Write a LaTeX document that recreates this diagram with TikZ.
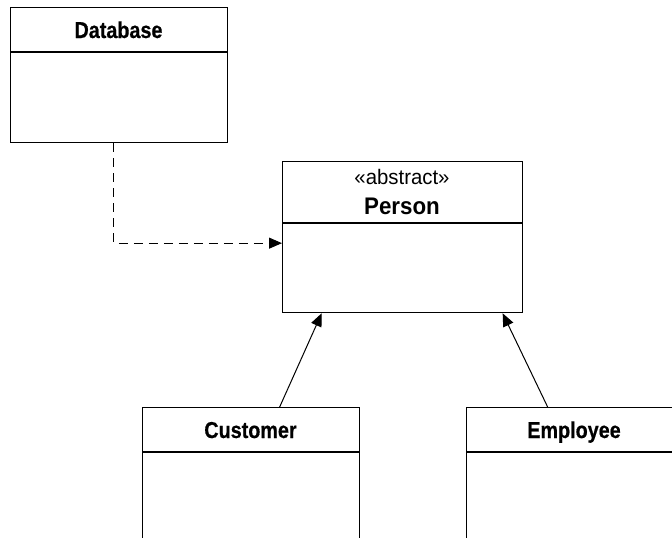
\documentclass[tikz,border=0pt]{standalone}
\usepackage{fontspec}
\setmainfont{Liberation Sans}
\newfontfamily\condbold[FakeStretch=0.86,FakeBold=0.6]{Liberation Sans Bold}
\newfontfamily\condreg[FakeStretch=0.97]{Liberation Sans}
\newfontfamily\headbold[FakeStretch=0.93]{Liberation Sans Bold}
\usetikzlibrary{arrows.meta,calc}
\tikzset{
  classbox/.style={draw, line width=1.3pt, inner sep=0pt, anchor=north west},
  classname/.style={font=\condbold\fontsize{23}{25}\selectfont, inner sep=0pt, anchor=base},
  divider/.style={line width=1.3pt},
  depends/.style={line width=1pt, dash pattern=on 9pt off 6pt, -{Triangle[length=13pt,width=11pt]}},
  inherits/.style={line width=1pt, -{Triangle[length=13pt,width=11pt]}}
}
\begin{document}
\begin{tikzpicture}[x=1pt,y=-1pt]
  \useasboundingbox (0,0) rectangle (672,538);
  \clip (0,0) rectangle (672,538);

  % Database class
  \node[classbox, minimum width=217pt, minimum height=135pt] (db) at (10,7) {};
  \draw[divider] (10,52) -- (227,52);
  \node[classname] (dbname) at (118.5,38) {Database};

  % abstract Person class
  \node[classbox, minimum width=240pt, minimum height=151pt] (person) at (282,161) {};
  \draw[divider] (282,223) -- (522,223);
  \node[font=\condreg\fontsize{21}{23}\selectfont, inner sep=0pt, anchor=base] (stereo) at (402,184) {«abstract»};
  \node[font=\headbold\fontsize{24}{26}\selectfont, inner sep=0pt, anchor=base] (pname) at (402,214) {Person};

  % Customer class
  \node[classbox, minimum width=217pt, minimum height=160pt] (cust) at (142,407) {};
  \draw[divider] (142,452) -- (359,452);
  \node[classname] (custname) at (250.5,438) {Customer};

  % Employee class
  \node[classbox, minimum width=220pt, minimum height=160pt] (emp) at (466,407) {};
  \draw[divider] (466,452) -- (686,452);
  \node[classname] (empname) at (574,438) {Employee};

  % dependency from Database to Person
  \draw[depends] ([xshift=-5.5pt]db.south) |- ([yshift=-6pt]person.west);

  % generalisations
  \draw[inherits] ([xshift=28.5pt]cust.north) -- ([xshift=-81pt]person.south);
  \draw[inherits] ([xshift=-29pt]emp.north) -- ([xshift=100pt]person.south);
\end{tikzpicture}
\end{document}
